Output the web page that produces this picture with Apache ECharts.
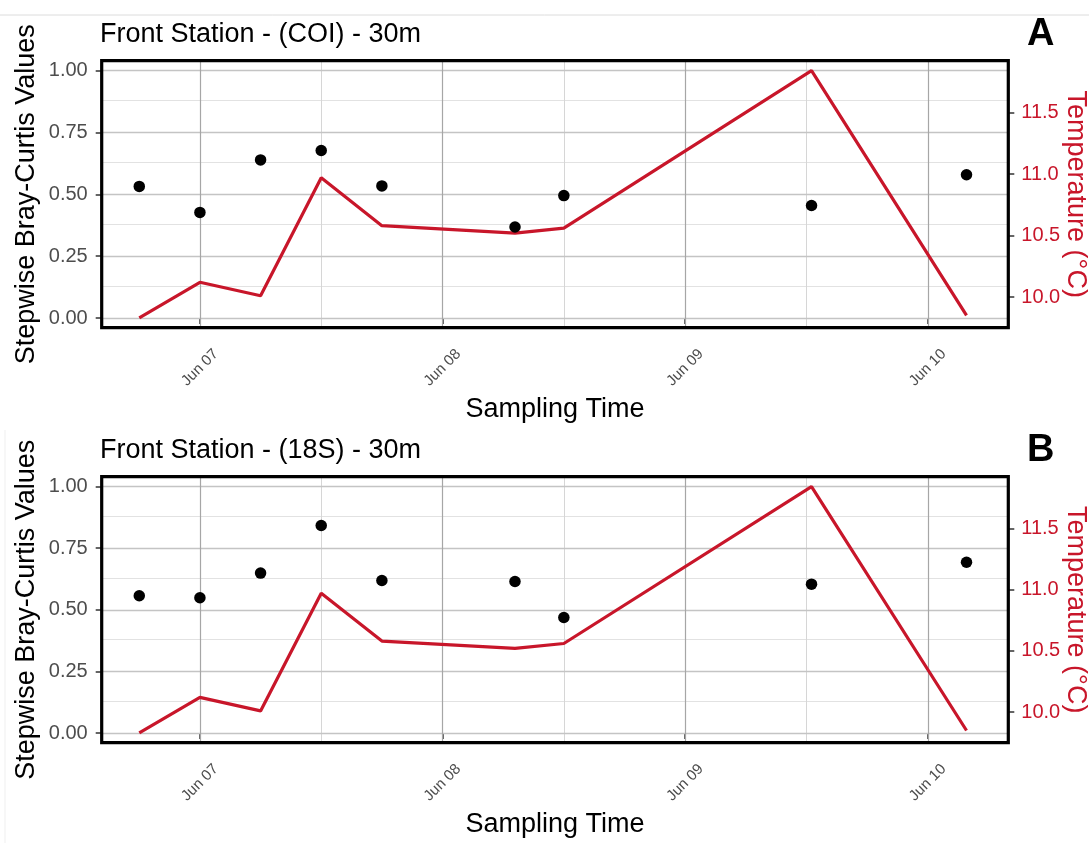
<!DOCTYPE html>
<html><head><meta charset="utf-8">
<script src="https://cdn.jsdelivr.net/npm/echarts@6/dist/echarts.min.js"></script>
<style>html,body{margin:0;padding:0;background:#fff}#chart{width:1089px;height:843px}</style>
</head><body><div id="chart"></div>
<script>
// ---- data ----
const sampleTimes = ['2019-06-06 18:00','2019-06-07 00:00','2019-06-07 06:00','2019-06-07 12:00','2019-06-07 18:00','2019-06-08 07:10','2019-06-08 12:00','2019-06-09 12:30','2019-06-10 03:50'];
const brayCurtisCOI = [0.532, 0.427, 0.639, 0.677, 0.534, 0.368, 0.495, 0.455, 0.579];
const brayCurtis18S = [0.557, 0.549, 0.649, 0.842, 0.619, 0.615, 0.469, 0.604, 0.693];
const temperature = [9.83, 10.12, 10.01, 10.97, 10.58, 10.52, 10.56, 11.84, 9.85];
const dayTicks = ['2019-06-07 00:00','2019-06-08 00:00','2019-06-09 00:00','2019-06-10 00:00'];
const noonLines = ['2019-06-07 12:00','2019-06-08 12:00','2019-06-09 12:00'];
const bcTicks = [0, 0.25, 0.5, 0.75, 1];
const bcMinor = [0.125, 0.375, 0.625, 0.875];
const tempTicks = [10, 10.5, 11, 11.5];
const panelTitles = ['Front Station - (COI) - 30m', 'Front Station - (18S) - 30m'];
const panelTags = ['A', 'B'];
const panelValues = [brayCurtisCOI, brayCurtis18S];

// ---- axis settings ----
const xMin = '2019-06-06 14:17', xMax = '2019-06-10 07:58';
const bcMin = -0.039, bcMax = 1.040;
const tempAtZero = 9.829, tempPerUnit = 2.012; // secondary axis transform
const tempMin = tempAtZero + bcMin * tempPerUnit, tempMax = tempAtZero + bcMax * tempPerUnit;

const toMs = s => { const [d, t] = s.split(' '); const [Y, M, D] = d.split('-').map(Number); const [h, m] = t.split(':').map(Number); return new Date(Y, M - 1, D, h, m).getTime(); };
const MONTHS = ['Jan','Feb','Mar','Apr','May','Jun','Jul','Aug','Sep','Oct','Nov','Dec'];
const fmtDay = v => { const d = new Date(v); return MONTHS[d.getMonth()] + ' ' + String(d.getDate()).padStart(2, '0'); };

const FONT = 'Liberation Sans, Arial, Helvetica, sans-serif';
const RED = '#c8162a';
const GREY = '#4d4d4d';

const layout = [{ top: 60.7, height: 267 }, { top: 476.7, height: 266 }];

const grids = [], xAxes = [], yAxes = [], series = [], titles = [];
layout.forEach((L, i) => {
  grids.push({ left: 101.7, width: 906.6, top: L.top, height: L.height, show: true, borderColor: '#000', borderWidth: 3.2, backgroundColor: 'transparent', z: 5, containLabel: false, outerBoundsMode: 'none' });
  xAxes.push({
    type: 'value', gridIndex: i, min: toMs(xMin), max: toMs(xMax),
    axisLine: { show: false },
    axisTick: { show: true, length: 6, lineStyle: { color: '#333', width: 1.5 }, customValues: dayTicks.map(toMs) },
    axisLabel: { customValues: dayTicks.map(toMs), formatter: fmtDay, rotate: 45, align: 'center', verticalAlign: 'middle', margin: 40, fontSize: 15, color: GREY, fontFamily: FONT },
    splitLine: { show: false },
    name: 'Sampling Time', nameLocation: 'middle', nameGap: 68, nameMoveOverlap: false,
    nameTextStyle: { fontSize: 27, color: '#000', fontFamily: FONT }
  });
  yAxes.push({
    type: 'value', gridIndex: i, position: 'left', min: bcMin, max: bcMax,
    axisLine: { show: false },
    axisTick: { show: true, length: 6, lineStyle: { color: '#333', width: 1.5 }, customValues: bcTicks },
    axisLabel: { customValues: bcTicks, formatter: v => v.toFixed(2), margin: 14, fontSize: 20, color: GREY, fontFamily: FONT },
    splitLine: { show: false },
    name: 'Stepwise Bray-Curtis Values', nameLocation: 'middle', nameRotate: 90, nameGap: 62, nameMoveOverlap: false,
    nameTextStyle: { fontSize: 27, color: '#000', fontFamily: FONT }
  });
  yAxes.push({
    type: 'value', gridIndex: i, position: 'right', min: tempMin, max: tempMax,
    axisLine: { show: false },
    axisTick: { show: true, length: 6, lineStyle: { color: '#333', width: 1.5 }, customValues: tempTicks },
    axisLabel: { customValues: tempTicks, formatter: v => v.toFixed(1), margin: 13, fontSize: 20, color: RED, fontFamily: FONT },
    splitLine: { show: false },
    name: 'Temperature (°C)', nameLocation: 'middle', nameRotate: -90, nameGap: 54, nameMoveOverlap: false,
    nameTextStyle: { fontSize: 27, color: RED, fontFamily: FONT }
  });
  const times = sampleTimes.map(toMs);
  const gridLines = [];
  bcMinor.forEach(v => gridLines.push({ yAxis: v, lineStyle: { color: '#e2e2e2', width: 1, type: 'solid' } }));
  noonLines.forEach(t => gridLines.push({ xAxis: toMs(t), lineStyle: { color: '#d6d6d6', width: 1, type: 'solid' } }));
  bcTicks.forEach(v => gridLines.push({ yAxis: v, lineStyle: { color: '#c4c4c4', width: 1.3, type: 'solid' } }));
  dayTicks.forEach(t => gridLines.push({ xAxis: toMs(t), lineStyle: { color: '#a6a6a6', width: 1.2, type: 'solid' } }));
  series.push({
    type: 'line', xAxisIndex: i, yAxisIndex: 2 * i, z: 1, silent: true,
    data: times.map((t, k) => [t, panelValues[i][k]]), showSymbol: false, lineStyle: { opacity: 0 },
    markLine: { silent: true, z: 1, symbol: ['none', 'none'], label: { show: false }, animation: false,
      lineStyle: { type: 'solid' }, emphasis: { disabled: true }, data: gridLines }
  });
  series.push({
    type: 'line', xAxisIndex: i, yAxisIndex: 2 * i + 1, z: 3,
    data: times.map((t, k) => [t, temperature[k]]), showSymbol: false,
    lineStyle: { color: RED, width: 3.2 }
  });
  series.push({
    type: 'scatter', xAxisIndex: i, yAxisIndex: 2 * i, z: 4,
    data: times.map((t, k) => [t, panelValues[i][k]]), symbol: 'circle', symbolSize: 11.5,
    itemStyle: { color: '#000', opacity: 1 }
  });
  titles.push({ text: panelTitles[i], left: 100, top: L.top - 40, padding: 0, textStyle: { fontSize: 27, fontWeight: 'normal', color: '#000', fontFamily: FONT } });
  titles.push({ text: panelTags[i], left: 1027, top: L.top - 45, padding: 0, textStyle: { fontSize: 38, fontWeight: 'bold', color: '#000', fontFamily: FONT } });
});

const chart = echarts.init(document.getElementById('chart'), null, { renderer: 'canvas' });
chart.setOption({
  animation: false,
  backgroundColor: '#fff',
  title: titles,
  grid: grids, xAxis: xAxes, yAxis: yAxes, series: series,
  graphic: [
    { type: 'line', shape: { x1: 0, y1: 15, x2: 1089, y2: 15 }, style: { stroke: '#dcdcdc', lineWidth: 1 }, silent: true },
    { type: 'line', shape: { x1: 5, y1: 430, x2: 5, y2: 843 }, style: { stroke: '#efefef', lineWidth: 1 }, silent: true }
  ]
});
</script></body></html>
